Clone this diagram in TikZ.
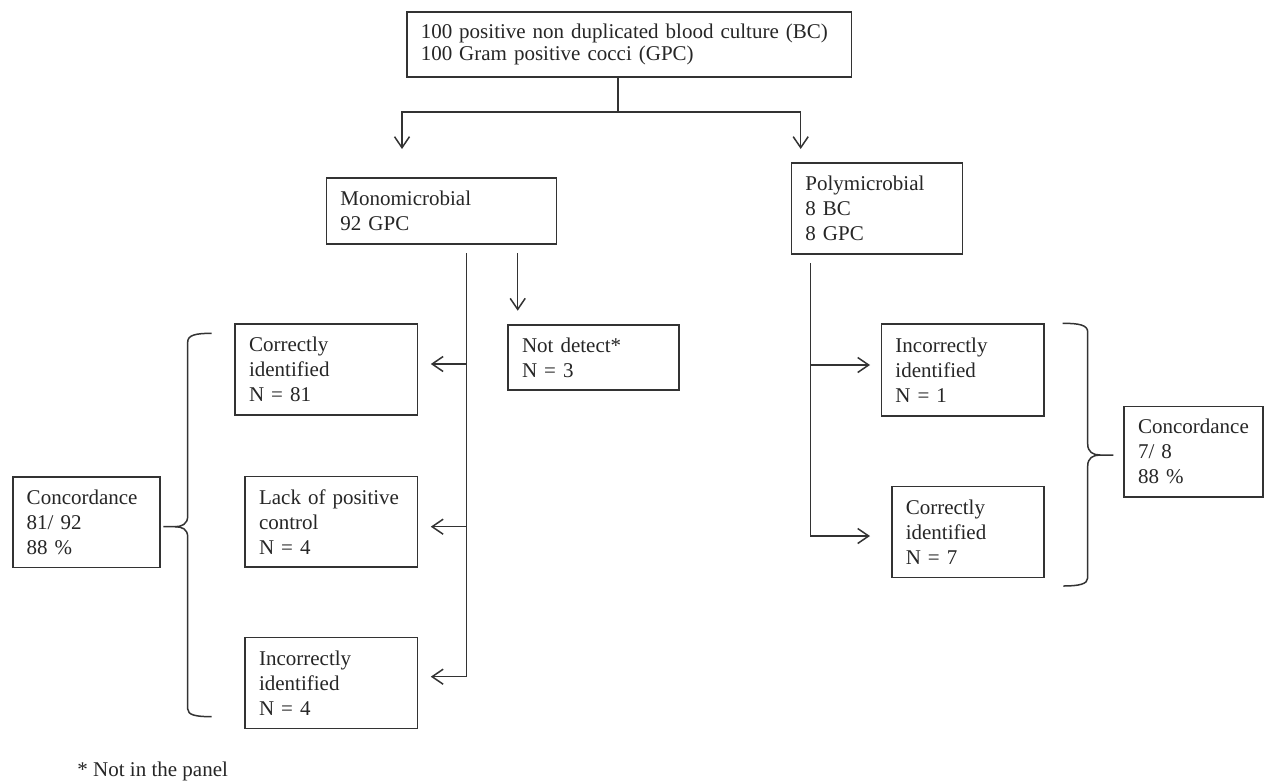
\documentclass[tikz,border=0pt]{standalone}
\usepackage{fontspec}
\setmainfont{Liberation Serif}
\usetikzlibrary{arrows.meta}
\begin{document}
\begin{tikzpicture}[x=1pt,y=-1pt,line width=1.5pt,
  box/.style={draw=black!80,text=black!85,anchor=north west,align=left,
    inner xsep=14pt,inner ysep=0pt,font=\fontsize{21}{25}\selectfont},
  lnk/.style={draw=black!80},
  arr/.style={draw=black!80,-{Straight Barb[length=11pt,width=15pt]}}]
\useasboundingbox (0,0) rectangle (1267,782);
\fill[white] (0,0) rectangle (1267,782);

% boxes
\node[box,minimum width=444.7pt,minimum height=65pt,text width=416.7pt,
  font=\fontsize{21}{22}\selectfont] (top) at (406,11)
  {100 positive non duplicated blood culture (BC)\\100 Gram positive cocci (GPC)};
\node[box,minimum width=230pt,minimum height=66pt,text width=202pt] (mono) at (325.7,177)
  {Monomicrobial\\92 GPC};
\node[box,minimum width=171pt,minimum height=91pt,text width=143pt] (poly) at (790.7,162.3)
  {Polymicrobial\\8 BC\\8 GPC};
\node[box,minimum width=182.4pt,minimum height=90.7pt,text width=154.4pt] (corrL) at (234.3,323.3)
  {Correctly\\identified\\N = 81};
\node[box,minimum width=171pt,minimum height=65.3pt,text width=143pt] (notdet) at (507.3,324)
  {Not detect*\\N = 3};
\node[box,minimum width=172.4pt,minimum height=90.3pt,text width=144.4pt] (lack) at (244.3,475.7)
  {Lack of positive\\control\\N = 4};
\node[box,minimum width=172.4pt,minimum height=91pt,text width=144.4pt] (incL) at (244.3,636.7)
  {Incorrectly\\identified\\N = 4};
\node[box,minimum width=162.6pt,minimum height=91.7pt,text width=134.6pt] (incR) at (880.7,323.3)
  {Incorrectly\\identified\\N = 1};
\node[box,minimum width=152.3pt,minimum height=91pt,text width=124.3pt] (corrR) at (891,485.7)
  {Correctly\\identified\\N = 7};
\node[box,minimum width=147pt,minimum height=90.7pt,text width=119pt] (concL) at (12,476)
  {Concordance\\81/ 92\\88 \%};
\node[box,minimum width=138.7pt,minimum height=90.3pt,text width=110.7pt] (concR) at (1123.3,405.7)
  {Concordance\\7/ 8\\88 \%};

\node[anchor=base west,inner sep=0pt,text=black!85,font=\fontsize{21}{25}\selectfont] (fn) at (76.7,776.7)
  {* Not in the panel};

% top split
\coordinate (split) at (618,112);
\coordinate (mA) at (402,149);
\coordinate (pA) at (800.7,149);
\draw[lnk] (top.south -| split) -- (split);
\draw[arr] (split) -| (mA);
\draw[arr] (split) -| (pA);

% monomicrobial branch
\coordinate (mTrunk) at (466.7,253);
\coordinate (m1) at (466.7,364);
\coordinate (m2) at (466.7,526.7);
\coordinate (mEnd) at (466.7,676.7);
\draw[arr,shorten >=12.6pt] (mTrunk) |- (incL.east |- mEnd);
\draw[arr,shorten >=12.6pt] (m1) -- (m1 -| corrL.east);
\draw[arr,shorten >=12.6pt] (m2) -- (m2 -| lack.east);
\coordinate (nA) at (517.7,253);
\draw[arr,shorten >=13.3pt] (nA) -- (nA |- notdet.north);

% polymicrobial branch
\coordinate (pTrunk) at (810.7,263);
\coordinate (p1) at (810.7,365);
\coordinate (pEnd) at (810.7,536);
\draw[arr,shorten >=21pt] (pTrunk) |- (corrR.west |- pEnd);
\draw[arr,shorten >=10.7pt] (p1) -- (p1 -| incR.west);

% left brace
\draw[lnk] (211.7,333.3) .. controls (196,333.3) and (187.7,335) .. (187.7,342)
  -- (187.7,516) .. controls (187.7,524) and (182,526.7) .. (175,526.7) -- (163.3,526.7);
\draw[lnk] (175,526.7) .. controls (182,526.7) and (187.7,529) .. (187.7,537)
  -- (187.7,709) .. controls (187.7,715) and (196,716.7) .. (211.7,716.7);

% right brace
\draw[lnk] (1062.7,323.3) .. controls (1079,323.3) and (1087.7,325) .. (1087.7,332)
  -- (1087.7,444) .. controls (1087.7,452) and (1093,455) .. (1100,455) -- (1113.3,455);
\draw[lnk] (1100,455) .. controls (1093,455) and (1087.7,458) .. (1087.7,466)
  -- (1087.7,578) .. controls (1087.7,584) and (1079,586) .. (1063.3,586);
\end{tikzpicture}
\end{document}
